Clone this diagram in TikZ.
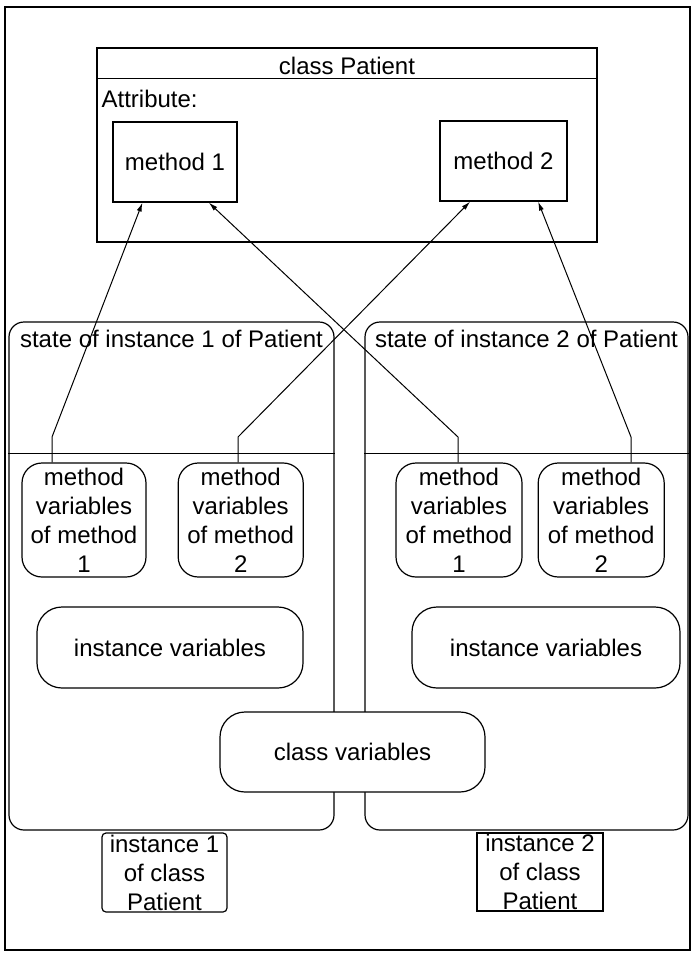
\documentclass[tikz,border=0pt]{standalone}
\usepackage{fontspec}
\setmainfont{Liberation Sans}
\usetikzlibrary{arrows.meta, positioning, calc}

\begin{document}
\begin{tikzpicture}[x=1pt, y=-1pt, line width=1.2pt,
    every node/.style={font=\fontsize{24}{29}\selectfont, align=center, inner sep=0pt},
    box/.style={draw, rectangle},
    rbox/.style={draw, fill=white, rounded corners=#1},
    rbox/.default=20pt,
    link/.style={-{Latex[length=9pt,width=5pt]}, line width=1pt}]
  \useasboundingbox (0,0) rectangle (692,953);
  \draw[line width=2pt] (5,7) rectangle (690,950);

  \node[box, minimum width=500pt, minimum height=194pt] (C) at (347,145) {};
  \draw[line width=1.5pt] ($(C.north west)+(0,31)$) -- ($(C.north east)+(0,31)$);
  \node[anchor=base] (Cname) at (347,74) {class Patient};
  \node[anchor=base west] (Attr) at (101,107) {Attribute:};
  \node[box, minimum width=124pt, minimum height=80pt] (M1) at (175,162) {method 1};
  \node[box, minimum width=127pt, minimum height=80pt] (M2) at (503.5,161) {method 2};

  \node[rbox=15pt, minimum width=325pt, minimum height=508pt] (S1) at (171.5,576) {};
  \node[rbox=15pt, minimum width=323pt, minimum height=508pt] (S2) at (526.5,576) {};
  \node[below=8pt of S1.north] (S1name) {state of instance 1 of Patient};
  \node[below=8pt of S2.north] (S2name) {state of instance 2 of Patient};
  \draw ($(S1.north west)+(0,132)$) -- ($(S1.north east)+(0,132)$);
  \draw ($(S2.north west)+(0,132)$) -- ($(S2.north east)+(0,132)$);

  \node[rbox, minimum width=124pt, minimum height=114pt] (V11) at (84,520) {method\\variables\\of method\\1};
  \node[rbox, minimum width=125pt, minimum height=114pt, right=31pt of V11] (V12) {method\\variables\\of method\\2};
  \node[rbox, minimum width=126pt, minimum height=114pt] (V21) at (459,520) {method\\variables\\of method\\1};
  \node[rbox, minimum width=126pt, minimum height=114pt, right=15pt of V21] (V22) {method\\variables\\of method\\2};

  \node[rbox=25pt, minimum width=266pt, minimum height=81pt] (I1) at (170,647.5) {instance variables};
  \node[rbox=25pt, minimum width=268pt, minimum height=81pt] (I2) at (546,647.5) {instance variables};
  \node[rbox=25pt, minimum width=265pt, minimum height=80pt] (CV) at (352.5,752) {class variables};

  \node[rbox=4pt, minimum width=125pt, minimum height=79pt] (L1) at (164.5,872.5) {instance 1\\of class\\Patient};
  \node[box, minimum width=126pt, minimum height=78pt] (L2) at (540,872) {instance 2\\of class\\Patient};

  \coordinate (K11) at (52,437);
  \coordinate (K12) at (238,437);
  \coordinate (K21) at (458,437);
  \coordinate (K22) at (631,437);
  \draw[link] (V11.north -| K11) -- (K11) -- ($(M1.south west)!0.24!(M1.south east)$);
  \draw[link] (V12.north -| K12) -- (K12) -- ($(M2.south west)!0.24!(M2.south east)$);
  \draw[link] (V21.north -| K21) -- (K21) -- ($(M1.south west)!0.77!(M1.south east)$);
  \draw[link] (V22.north -| K22) -- (K22) -- ($(M2.south west)!0.77!(M2.south east)$);
\end{tikzpicture}
\end{document}
